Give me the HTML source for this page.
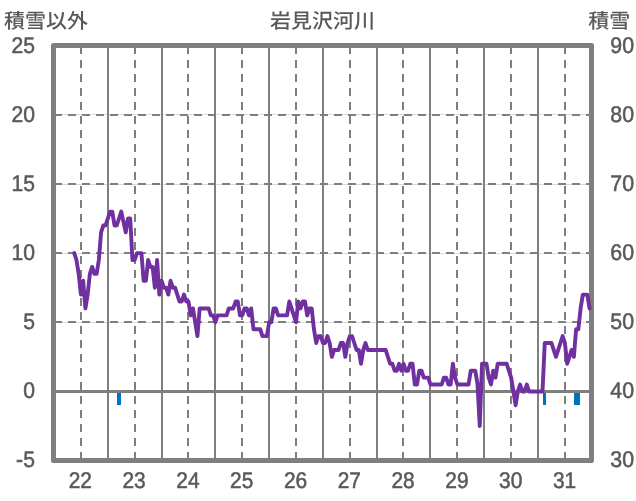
<!DOCTYPE html>
<html lang="ja"><head><meta charset="utf-8"><title>岩見沢河川</title>
<style>
html,body{margin:0;padding:0;background:#fff}
body{width:636px;height:501px;overflow:hidden}
svg{display:block}
text{font-family:"Liberation Sans","Noto Sans CJK JP",sans-serif;fill:#595959;text-rendering:geometricPrecision}
.j{font-size:21px;font-weight:500}
.d{font-size:21.33px;stroke:#595959;stroke-width:0.5px}
</style></head><body>
<svg width="636" height="501" viewBox="0 0 636 501">
<rect width="636" height="501" fill="#fff"/>
<g stroke="#d9d9d9" stroke-width="1" fill="none">
<line x1="54" y1="114.5" x2="591" y2="114.5"/>
<line x1="54" y1="184.5" x2="591" y2="184.5"/>
<line x1="54" y1="253.5" x2="591" y2="253.5"/>
<line x1="54" y1="322.5" x2="591" y2="322.5"/>
</g>
<g stroke="#7f7f7f" stroke-width="2" fill="none" stroke-dasharray="8 6">
<line x1="54" y1="115" x2="591" y2="115"/>
<line x1="54" y1="184" x2="591" y2="184"/>
<line x1="54" y1="253" x2="591" y2="253"/>
<line x1="54" y1="322" x2="591" y2="322"/>
<line x1="81" y1="46" x2="81" y2="460"/>
<line x1="135" y1="46" x2="135" y2="460"/>
<line x1="188" y1="46" x2="188" y2="460"/>
<line x1="242" y1="46" x2="242" y2="460"/>
<line x1="296" y1="46" x2="296" y2="460"/>
<line x1="350" y1="46" x2="350" y2="460"/>
<line x1="403" y1="46" x2="403" y2="460"/>
<line x1="457" y1="46" x2="457" y2="460"/>
<line x1="511" y1="46" x2="511" y2="460"/>
<line x1="565" y1="46" x2="565" y2="460"/>
</g>
<g stroke="#7f7f7f" stroke-width="2" fill="none">
<line x1="108" y1="46" x2="108" y2="460"/>
<line x1="162" y1="46" x2="162" y2="460"/>
<line x1="215" y1="46" x2="215" y2="460"/>
<line x1="269" y1="46" x2="269" y2="460"/>
<line x1="323" y1="46" x2="323" y2="460"/>
<line x1="377" y1="46" x2="377" y2="460"/>
<line x1="430" y1="46" x2="430" y2="460"/>
<line x1="484" y1="46" x2="484" y2="460"/>
<line x1="538" y1="46" x2="538" y2="460"/>
</g>
<line x1="54" y1="391.5" x2="591" y2="391.5" stroke="#7f7f7f" stroke-width="3"/>
<g fill="#0070c0">
<rect x="117.00" y="393" width="4.00" height="12.00"/>
<rect x="543.00" y="393" width="3.00" height="12.00"/>
<rect x="574.00" y="393" width="6.00" height="12.00"/>
</g>
<rect x="53.50" y="45.50" width="538.00" height="415.00" fill="none" stroke="#7f7f7f" stroke-width="5" stroke-linejoin="round"/>
<polyline fill="none" stroke="#7030a0" stroke-width="3.9" stroke-linejoin="round" stroke-linecap="round" points="74.20,253.10 76.44,260.02 78.68,273.85 80.92,294.60 83.16,280.77 85.40,308.43 87.64,294.60 89.88,273.85 92.13,266.93 94.37,273.85 96.61,273.85 98.85,260.02 101.09,232.35 103.33,225.43 105.57,225.43 107.81,218.52 110.05,211.60 112.29,211.60 114.53,225.43 116.77,225.43 119.01,218.52 121.25,211.60 123.50,221.98 125.74,232.35 127.98,218.52 130.22,218.52 132.46,260.02 134.70,260.02 136.94,253.10 139.18,253.10 141.42,253.10 143.66,280.77 145.90,280.77 148.14,260.02 150.38,266.93 152.62,266.93 154.87,287.68 157.11,260.02 159.35,294.60 161.59,280.77 163.83,287.68 166.07,287.68 168.31,294.60 170.55,280.77 172.79,287.68 175.03,287.68 177.27,294.60 179.51,301.52 181.75,301.52 183.99,294.60 186.24,301.52 188.48,301.52 190.72,315.35 192.96,308.43 195.20,322.27 197.44,336.10 199.68,308.43 201.92,308.43 204.16,308.43 206.40,308.43 208.64,308.43 210.88,315.35 213.12,315.35 215.36,322.27 217.60,315.35 219.85,315.35 222.09,315.35 224.33,315.35 226.57,315.35 228.81,308.43 231.05,308.43 233.29,308.43 235.53,301.52 237.77,301.52 240.01,315.35 242.25,315.35 244.49,308.43 246.73,308.43 248.97,315.35 251.22,308.43 253.46,329.18 255.70,329.18 257.94,329.18 260.18,329.18 262.42,336.10 264.66,336.10 266.90,336.10 269.14,322.27 271.38,322.27 273.62,308.43 275.86,308.43 278.10,315.35 280.34,315.35 282.59,315.35 284.83,315.35 287.07,315.35 289.31,301.52 291.55,308.43 293.79,315.35 296.03,322.27 298.27,301.52 300.51,308.43 302.75,301.52 304.99,301.52 307.23,315.35 309.47,308.43 311.71,308.43 313.95,329.18 316.20,343.02 318.44,336.10 320.68,336.10 322.92,343.02 325.16,343.02 327.40,336.10 329.64,343.02 331.88,356.85 334.12,349.93 336.36,349.93 338.60,349.93 340.84,343.02 343.08,343.02 345.32,356.85 347.57,343.02 349.81,336.10 352.05,336.10 354.29,343.02 356.53,349.93 358.77,349.93 361.01,363.77 363.25,349.93 365.49,343.02 367.73,349.93 369.97,349.93 372.21,349.93 374.45,349.93 376.69,349.93 378.94,349.93 381.18,349.93 383.42,349.93 385.66,349.93 387.90,356.85 390.14,363.77 392.38,363.77 394.62,370.68 396.86,370.68 399.10,363.77 401.34,370.68 403.58,363.77 405.82,370.68 408.06,370.68 410.30,363.77 412.55,363.77 414.79,384.52 417.03,384.52 419.27,370.68 421.51,370.68 423.75,377.60 425.99,377.60 428.23,377.60 430.47,384.52 432.71,384.52 434.95,384.52 437.19,384.52 439.43,384.52 441.67,384.52 443.92,377.60 446.16,377.60 448.40,384.52 450.64,384.52 452.88,363.77 455.12,377.60 457.36,384.52 459.60,384.52 461.84,384.52 464.08,384.52 466.32,384.52 468.56,384.52 470.80,370.68 473.04,370.68 475.29,370.68 477.53,384.52 479.77,426.02 482.01,363.77 484.25,363.77 486.49,363.77 488.73,377.60 490.97,384.52 493.21,370.68 495.45,377.60 497.69,363.77 499.93,363.77 502.17,363.77 504.41,363.77 506.66,363.77 508.90,370.68 511.14,377.60 513.38,391.43 515.62,405.27 517.86,391.43 520.10,384.52 522.34,391.43 524.58,391.43 526.82,384.52 529.06,391.43 531.30,391.43 533.54,391.43 535.78,391.43 538.02,391.43 540.27,391.43 542.51,391.43 544.75,343.02 546.99,343.02 549.23,343.02 551.47,343.02 553.71,349.93 555.95,356.85 558.19,349.93 560.43,343.02 562.67,336.10 564.91,343.02 567.15,363.77 569.39,356.85 571.64,349.93 573.88,356.85 576.12,329.18 578.36,329.18 580.60,308.43 582.84,294.60 585.08,294.60 587.32,294.60 589.56,308.43"/>
<text class="j" transform="translate(3.90 27.90) scale(1 0.965)" text-anchor="start">積雪以外</text>
<text class="j" transform="translate(322.60 27.70) scale(1 0.965)" text-anchor="middle">岩見沢河川</text>
<text class="j" transform="translate(630.20 27.90) scale(1 0.965)" text-anchor="end">積雪</text>
<text class="d" transform="translate(34.90 53.00) scale(0.99 1.06)" text-anchor="end">25</text>
<text class="d" transform="translate(34.90 122.00) scale(0.99 1.06)" text-anchor="end">20</text>
<text class="d" transform="translate(34.90 191.00) scale(0.99 1.06)" text-anchor="end">15</text>
<text class="d" transform="translate(34.90 260.00) scale(0.99 1.06)" text-anchor="end">10</text>
<text class="d" transform="translate(34.90 329.00) scale(0.99 1.06)" text-anchor="end">5</text>
<text class="d" transform="translate(34.90 398.00) scale(0.99 1.06)" text-anchor="end">0</text>
<text class="d" transform="translate(34.90 467.00) scale(0.99 1.06)" text-anchor="end">-5</text>
<text class="d" transform="translate(610.30 53.00) scale(1 1.06)" text-anchor="start">90</text>
<text class="d" transform="translate(610.30 122.00) scale(1 1.06)" text-anchor="start">80</text>
<text class="d" transform="translate(610.30 191.00) scale(1 1.06)" text-anchor="start">70</text>
<text class="d" transform="translate(610.30 260.00) scale(1 1.06)" text-anchor="start">60</text>
<text class="d" transform="translate(610.30 329.00) scale(1 1.06)" text-anchor="start">50</text>
<text class="d" transform="translate(610.30 398.00) scale(1 1.06)" text-anchor="start">40</text>
<text class="d" transform="translate(610.30 467.00) scale(1 1.06)" text-anchor="start">30</text>
<text class="d" transform="translate(80.30 488.00) scale(0.98 1.06)" text-anchor="middle">22</text>
<text class="d" transform="translate(134.10 488.00) scale(0.98 1.06)" text-anchor="middle">23</text>
<text class="d" transform="translate(187.90 488.00) scale(0.98 1.06)" text-anchor="middle">24</text>
<text class="d" transform="translate(241.70 488.00) scale(0.98 1.06)" text-anchor="middle">25</text>
<text class="d" transform="translate(295.50 488.00) scale(0.98 1.06)" text-anchor="middle">26</text>
<text class="d" transform="translate(349.30 488.00) scale(0.98 1.06)" text-anchor="middle">27</text>
<text class="d" transform="translate(403.10 488.00) scale(0.98 1.06)" text-anchor="middle">28</text>
<text class="d" transform="translate(456.90 488.00) scale(0.98 1.06)" text-anchor="middle">29</text>
<text class="d" transform="translate(510.70 488.00) scale(0.98 1.06)" text-anchor="middle">30</text>
<text class="d" transform="translate(564.50 488.00) scale(0.98 1.06)" text-anchor="middle">31</text>
</svg>
</body></html>
